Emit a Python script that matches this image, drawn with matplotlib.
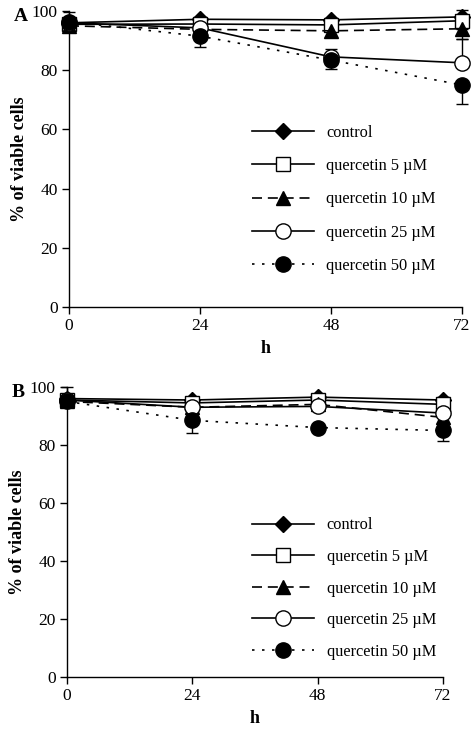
import matplotlib
matplotlib.use("Agg")
import matplotlib.pyplot as plt
from matplotlib.lines import Line2D
import numpy as np

plt.rcParams['font.family'] = ['Liberation Serif', 'DejaVu Serif']
plt.rcParams['mathtext.fontset'] = 'stix'

hours = [0, 24, 48, 72]
labels = ["control", "quercetin 5 \u00b5M", "quercetin 10 \u00b5M", "quercetin 25 \u00b5M", "quercetin 50 \u00b5M"]
yticks = [0, 20, 40, 60, 80, 100]

# Panel A values
a_control = [96.0, 97.2, 97.0, 98.0]
a_q5 = [95.5, 95.6, 95.3, 96.7]
a_q10 = [95.0, 93.8, 93.3, 94.0]
a_q25 = [96.0, 94.3, 84.5, 82.5]
a_q50 = [96.4, 91.5, 83.4, 75.0]
# errors (lower, upper)
a_control_err = ([0, 0, 0, 0], [3.5, 0.8, 0.8, 2.2])
a_q5_err = ([0, 0, 0, 0], [0, 0, 0, 0])
a_q10_err = ([0, 0, 0, 3.5], [0, 0, 0, 0])
a_q25_err = ([0, 0, 0, 0], [0, 0, 2.5, 8.0])
a_q50_err = ([0, 3.5, 3.0, 6.5], [0, 0, 0, 0])

# Panel B values
b_control = [96.0, 95.5, 96.5, 95.5]
b_q5 = [95.5, 94.5, 95.5, 94.0]
b_q10 = [95.0, 93.0, 94.0, 89.5]
b_q25 = [95.5, 93.0, 93.3, 91.0]
b_q50 = [95.0, 88.5, 86.0, 85.0]
b_control_err = ([0, 0, 0, 0], [4.0, 0.8, 0.8, 1.0])
b_q5_err = ([0, 0, 0, 0], [0, 0, 0, 0])
b_q10_err = ([0, 0, 0, 0], [0, 0, 0, 0])
b_q25_err = ([0, 0, 0, 0], [0, 0, 0, 0])
b_q50_err = ([0, 4.5, 0, 3.5], [0, 0, 0, 0])

styles = [
    dict(ls='-', marker='D', ms=8, mfc='black', mec='black'),
    dict(ls='-', marker='s', ms=10, mfc='white', mec='black'),
    dict(ls=(0, (6, 3.5)), marker='^', ms=10, mfc='black', mec='black'),
    dict(ls='-', marker='o', ms=11, mfc='white', mec='black'),
    dict(ls=(0, (1.5, 4.5)), marker='o', ms=11, mfc='black', mec='black'),
]
LW = 1.2

fig = plt.figure(figsize=(4.74, 7.53), dpi=100)

def panel(rect, series, errs, letter, leg_anchor, spacing):
    ax = fig.add_axes(rect)
    for i, (vals, err) in enumerate(zip(series, errs)):
        ax.errorbar(hours, vals, yerr=np.array(err), fmt='none', ecolor='black',
                    elinewidth=1.0, capsize=4, capthick=1.0, clip_on=False, zorder=2)
    for i, vals in enumerate(series):
        st = styles[i]
        ax.plot(hours, vals, color='black', lw=LW, ls=st['ls'], marker=st['marker'],
                ms=st['ms'], mfc=st['mfc'], mec=st['mec'], mew=1.0, clip_on=False, zorder=3 + i)
    ax.set_xlim(0, 72)
    ax.set_ylim(0, 100)
    ax.set_xticks(hours)
    ax.set_yticks(yticks)
    for s in ['top', 'right']:
        ax.spines[s].set_visible(False)
    for s in ['left', 'bottom']:
        ax.spines[s].set_linewidth(1.0)
    ax.tick_params(direction='out', length=5, width=1.0, labelsize=12.5, pad=3)
    ax.set_xlabel('h', fontsize=13, fontweight='bold', labelpad=4)
    ax.set_ylabel('% of viable cells', fontsize=13, fontweight='bold', labelpad=3)
    handles = []
    for i in range(5):
        st = styles[i]
        handles.append(Line2D([0], [0], color='black', lw=LW, ls=st['ls'], marker=st['marker'],
                              ms=st['ms'], mfc=st['mfc'], mec=st['mec'], mew=1.0))
    ax.legend(handles, labels, loc='upper left', bbox_to_anchor=leg_anchor, frameon=False,
              fontsize=11.8, handlelength=3.8, handletextpad=0.75, labelspacing=spacing,
              borderpad=0, borderaxespad=0)
    fig.text(rect[0] - 0.117, rect[1] + rect[3] - 0.007, letter, fontsize=14, fontweight='bold',
             ha='left', va='center')
    return ax

axA = panel([0.1456, 0.5923, 0.8291, 0.3931],
            [a_control, a_q5, a_q10, a_q25, a_q50],
            [a_control_err, a_q5_err, a_q10_err, a_q25_err, a_q50_err], 'A', (0.465, 0.615), 1.05)
axB = panel([0.1414, 0.1009, 0.7932, 0.3852],
            [b_control, b_q5, b_q10, b_q25, b_q50],
            [b_control_err, b_q5_err, b_q10_err, b_q25_err, b_q50_err], 'B', (0.492, 0.55), 0.95)

fig.savefig('out.png', dpi=100)
